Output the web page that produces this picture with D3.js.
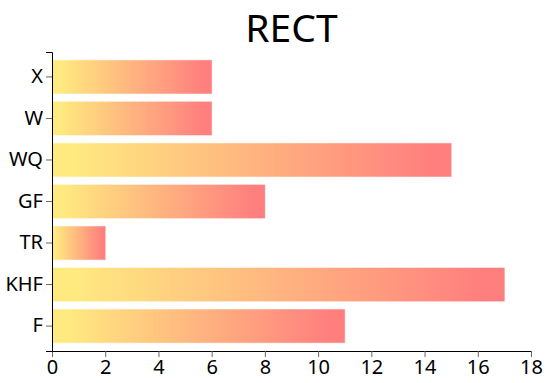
<!DOCTYPE html>
<html>
<head>
<meta charset="utf-8">
<script src="https://cdn.jsdelivr.net/npm/d3@7"></script>
<style>
  body { margin: 0; background: #fff; }
  svg { display: block; }
  text { font-family: "Noto Sans", "Open Sans", sans-serif; }
</style>
</head>
<body>
<svg id="chart" width="553" height="383"></svg>
<script>
const categories = ["X", "W", "WQ", "GF", "TR", "KHF", "F"];
const values = [6, 6, 15, 8, 2, 17, 11];
const xTicks = [0, 2, 4, 6, 8, 10, 12, 14, 16, 18];
const title = "RECT";

const svg = d3.select("#chart");
const margin = { top: 52, left: 52, right: 22, bottom: 32 };
const W = 553, H = 383;
const innerW = W - margin.left - margin.right; // 479
const innerH = H - margin.top - margin.bottom; // 299

const defs = svg.append("defs");
const grad = defs.append("linearGradient").attr("id", "barGrad")
  .attr("x1", "0%").attr("y1", "0%").attr("x2", "100%").attr("y2", "0%");
grad.append("stop").attr("offset", "5%").attr("stop-color", "#ffea80");
grad.append("stop").attr("offset", "95%").attr("stop-color", "#ff7f7f");

const x = d3.scaleLinear().domain([0, 18]).range([0, innerW]);
const y = d3.scaleBand().domain(categories).range([0, innerH]).padding(0.2);

const g = svg.append("g").attr("transform", `translate(${margin.left},${margin.top})`);

g.selectAll("rect.bar").data(categories).join("rect")
  .attr("class", "bar")
  .attr("x", 0)
  .attr("y", d => y(d))
  .attr("width", (d, i) => x(values[i]))
  .attr("height", y.bandwidth())
  .attr("fill", "url(#barGrad)")
  .attr("stroke", "url(#barGrad)")
  .attr("stroke-opacity", 0.45)
  .attr("stroke-width", 1);

const xAxis = g.append("g").attr("transform", `translate(0,${innerH})`)
  .call(d3.axisBottom(x).tickValues(xTicks));
const yAxis = g.append("g").call(d3.axisLeft(y));

[xAxis, yAxis].forEach(a => {
  a.selectAll("text").attr("font-size", 20).attr("fill", "#000")
    .style("font-family", '"Noto Sans", "Open Sans", sans-serif');
  a.selectAll(".tick line").attr("stroke", "#666");
  a.select(".domain").attr("stroke", "#000");
});

svg.append("text")
  .attr("x", margin.left + innerW / 2)
  .attr("y", 42)
  .attr("text-anchor", "middle")
  .attr("font-size", 39)
  .attr("fill", "#000")
  .text(title);
</script>
</body>
</html>
